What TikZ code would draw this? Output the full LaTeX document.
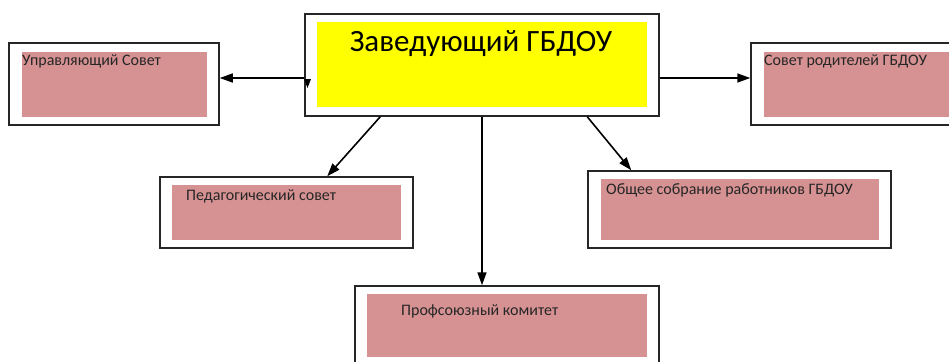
\documentclass[tikz,border=0pt]{standalone}
\usepackage{fontspec}
\setmainfont{Carlito}
\usetikzlibrary{arrows.meta,calc}
\definecolor{rosebg}{RGB}{214,146,146}
\definecolor{bossbg}{RGB}{255,255,0}
\tikzset{
  frame/.style={draw=black!85, line width=1.5pt, fill=white, inner sep=0pt},
  rosebox/.style={fill=rosebg, inner sep=0pt},
  lbl/.style={anchor=base west, inner sep=0pt, text=black!85, font=\fontsize{16}{18}\selectfont},
  conn/.style={-{Triangle[length=13pt,width=9pt]}, line width=1.6pt}
}
\begin{document}
\begin{tikzpicture}[x=1pt,y=-1pt]
    \fill[white] (0,0) rectangle (949,361);
    \useasboundingbox (0,0) rectangle (949,361);
    % head of the kindergarten
    \node[frame, minimum width=354, minimum height=102] (boss) at (482,65) {};
    \node[fill=bossbg, inner sep=0pt, minimum width=330, minimum height=85] (bossin) at (482,64.5) {};
    \node[anchor=base, inner sep=0pt, font=\fontsize{31}{34}\selectfont] (bosstxt) at (481,52) {Заведующий ГБДОУ};
    % councils
    \node[frame, minimum width=210, minimum height=82] (uprav) at (114,84) {};
    \node[rosebox, minimum width=185, minimum height=65] (upravin) at (114.5,84.5) {};
    \node[lbl] (upravtxt) at (22,66) {Управляющий Совет};
    \node[frame, minimum width=204, minimum height=82] (rod) at (853,84) {};
    \node[rosebox, minimum width=186, minimum height=65] (rodin) at (857,84.5) {};
    \node[lbl] (rodtxt) at (764,66) {Совет родителей ГБДОУ};
    \node[frame, minimum width=253, minimum height=71] (ped) at (286.5,212.5) {};
    \node[rosebox, minimum width=229, minimum height=55] (pedin) at (286.5,212.5) {};
    \node[lbl] (pedtxt) at (186,200) {Педагогический совет};
    \node[frame, minimum width=303, minimum height=77] (obsh) at (739.5,209.5) {};
    \node[rosebox, minimum width=278, minimum height=61] (obshin) at (740,209.5) {};
    \node[lbl] (obshtxt) at (606,194) {Общее собрание работников ГБДОУ};
    \node[frame, minimum width=304, minimum height=83] (prof) at (507,327.5) {};
    \node[rosebox, minimum width=280, minimum height=63] (profin) at (507,325.5) {};
    \node[lbl] (proftxt) at (401,315) {Профсоюзный комитет};
    % connectors
    \draw[conn] ([yshift=-13pt]boss.west) -- ([yshift=6pt]uprav.east);
    \fill[black] (304,79) -- (311,79) -- (307.5,88) -- cycle;
    \draw[conn] ([yshift=-13pt]boss.east) -- ([yshift=6pt]rod.west);
    \draw[conn] ([xshift=76pt]boss.south west) -- ([xshift=168pt]ped.north west);
    \draw[conn] ([xshift=283pt]boss.south west) -- ([xshift=44pt]obsh.north west);
    \draw[conn] (boss.south) -- (boss.south |- prof.north);
\end{tikzpicture}
\end{document}
